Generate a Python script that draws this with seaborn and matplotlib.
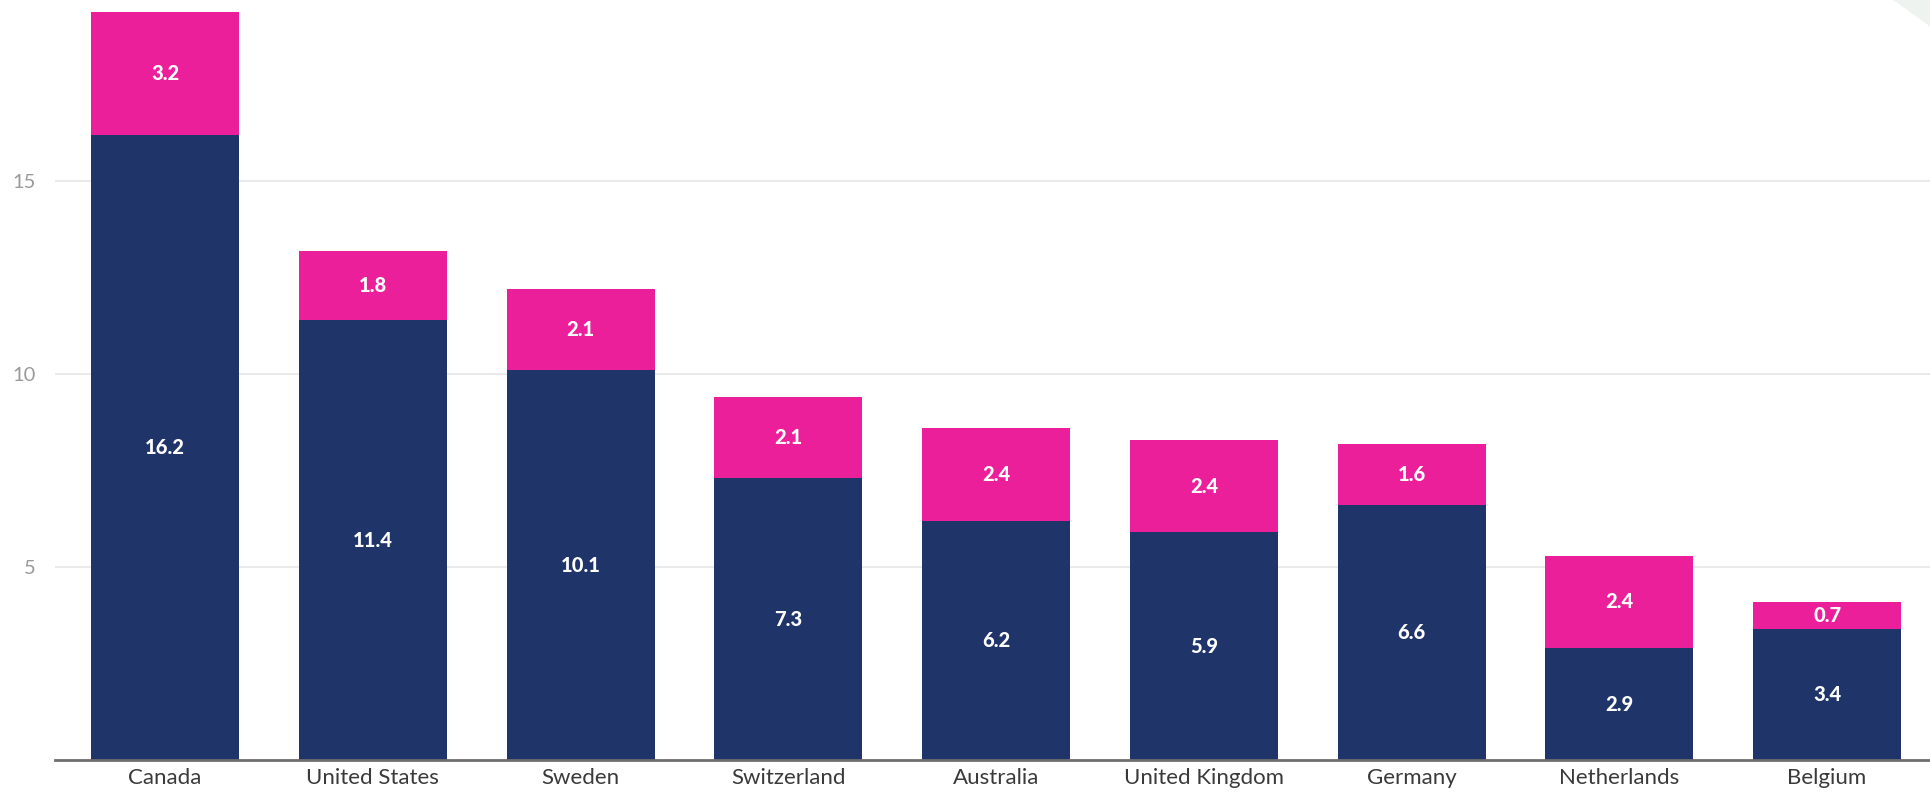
import matplotlib
matplotlib.use("Agg")
import matplotlib.pyplot as plt
import seaborn as sns
import pandas as pd
from matplotlib.patches import Polygon

countries = ["Canada", "United States", "Sweden", "Switzerland", "Australia",
             "United Kingdom", "Germany", "Netherlands", "Belgium"]
navy_vals = [16.2, 11.4, 10.1, 7.3, 6.2, 5.9, 6.6, 2.9, 3.4]
pink_vals = [3.2, 1.8, 2.1, 2.1, 2.4, 2.4, 1.6, 2.4, 0.7]
y_ticks = [5, 10, 15]

NAVY = "#1F3469"
PINK = "#EC1F9B"

sns.set_theme(style="white")
plt.rcParams["font.family"] = ["Lato", "DejaVu Sans"]

df = pd.DataFrame({"country": countries, "navy": navy_vals, "pink": pink_vals})
df["total"] = df["navy"] + df["pink"]

fig = plt.figure(figsize=(19.31, 7.96), dpi=100)
ax = fig.add_axes([55 / 1931, 1 - 760 / 796, 1 - 55 / 1931, 760 / 796])

sns.barplot(data=df, x="country", y="total", color=PINK, width=0.713,
            saturation=1, ax=ax, zorder=3, linewidth=0)
sns.barplot(data=df, x="country", y="navy", color=NAVY, width=0.713,
            saturation=1, ax=ax, zorder=4, linewidth=0)

for i, (n, p) in enumerate(zip(navy_vals, pink_vals)):
    ax.text(i, n / 2, f"{n:.1f}", ha="center", va="center", color="white",
            fontsize=14.5, fontweight="black", zorder=5)
    ax.text(i, n + p / 2, f"{p:.1f}", ha="center", va="center", color="white",
            fontsize=14.5, fontweight="black", zorder=5)

ax.set_ylim(0, 19.7)
ax.set_xlim(-0.53, 8.5)
ax.set_yticks(y_ticks)
ax.set_yticklabels([str(t) for t in y_ticks])
ax.yaxis.grid(True, color="#E6E6E6", linewidth=1.2, zorder=0)
ax.xaxis.grid(False)
ax.set_axisbelow(True)
for s in ["top", "right", "left"]:
    ax.spines[s].set_visible(False)
ax.spines["bottom"].set_color("#6E6E6E")
ax.spines["bottom"].set_linewidth(2)
ax.spines["bottom"].set_zorder(6)
ax.tick_params(axis="y", length=0, labelsize=14.5, labelcolor="#9A9A9A", pad=14)
ax.tick_params(axis="x", length=0, labelsize=16, labelcolor="#3A3A3A", pad=6)
ax.set_xlabel("")
ax.set_ylabel("")

# decorative corner shape
fig.patches.append(Polygon([[1893 / 1931, 1.0], [1.0, 1.0], [1.0, 1 - 27 / 796]],
                           closed=True, transform=fig.transFigure,
                           facecolor="#EEF3F0", edgecolor="none", zorder=0))

fig.savefig("out.png", dpi=100, facecolor="white")
